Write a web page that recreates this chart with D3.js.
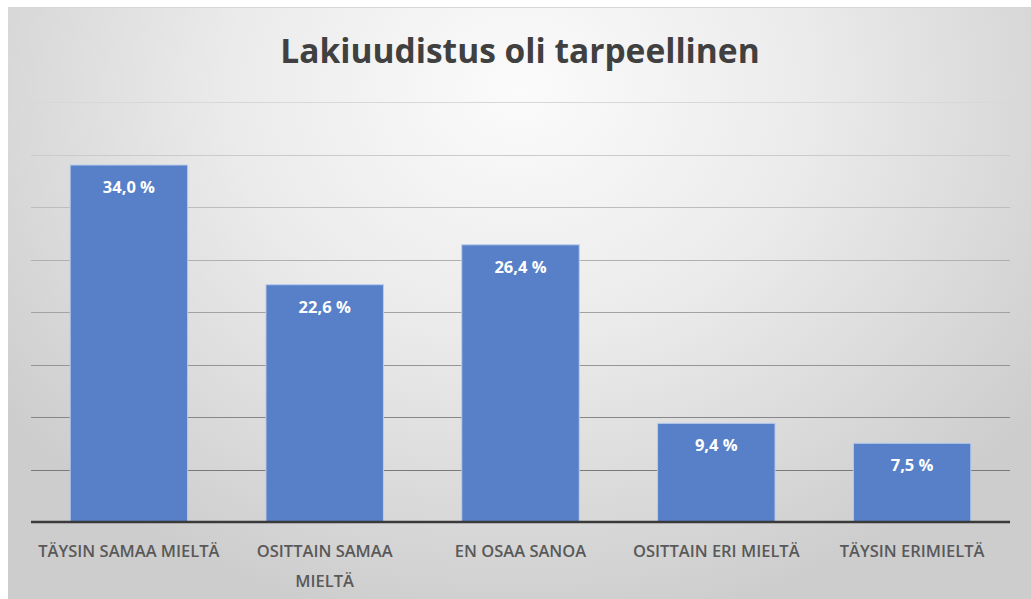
<!DOCTYPE html>
<html>
<head>
<meta charset="utf-8">
<script src="https://cdn.jsdelivr.net/npm/d3@7"></script>
<style>
  body { margin: 0; background: #fff; }
  svg { display: block; font-family: "Open Sans", "Noto Sans", sans-serif; }
</style>
</head>
<body>
<svg width="1031" height="599"></svg>
<script>
var categories = ["TÄYSIN SAMAA MIELTÄ", "OSITTAIN SAMAA MIELTÄ", "EN OSAA SANOA", "OSITTAIN ERI MIELTÄ", "TÄYSIN ERIMIELTÄ"];
var tickLines = [["TÄYSIN SAMAA MIELTÄ"], ["OSITTAIN SAMAA", "MIELTÄ"], ["EN OSAA SANOA"], ["OSITTAIN ERI MIELTÄ"], ["TÄYSIN ERIMIELTÄ"]];
var values = [34.0, 22.6, 26.4, 9.4, 7.5];
var gridTicks = [5, 10, 15, 20, 25, 30, 35, 40];
var title = "Lakiuudistus oli tarpeellinen";

var svg = d3.select("svg");
var svgDims = {width: +svg.attr("width"), height: +svg.attr("height")};
var plot = {left: 31, right: 1010, top: 102, bottom: 522};

var fi = d3.formatLocale({decimal: ",", thousands: " ", grouping: [3], currency: ["", " €"]});
var fmt = fi.format(".1f");

// background panel with soft radial shading
var defs = svg.append("defs");
var grad = defs.append("radialGradient")
  .attr("id", "bg")
  .attr("gradientUnits", "userSpaceOnUse")
  .attr("cx", 520).attr("cy", 90).attr("r", 640)
  .attr("gradientTransform", "translate(520,90) scale(1,0.85) translate(-520,-90)");
grad.append("stop").attr("offset", "0").attr("stop-color", "#fbfbfb");
grad.append("stop").attr("offset", "0.45").attr("stop-color", "#ebebeb");
grad.append("stop").attr("offset", "1").attr("stop-color", "#cdcdcd");

svg.append("rect")
  .attr("x", 8).attr("y", 8)
  .attr("width", svgDims.width - 8).attr("height", svgDims.height - 8)
  .attr("fill", "url(#bg)");
svg.append("line")
  .attr("x1", 8).attr("x2", svgDims.width)
  .attr("y1", 7.5).attr("y2", 7.5)
  .attr("stroke", "#d6d6d6");

var x = d3.scaleBand()
  .domain(categories)
  .range([plot.left, plot.right])
  .paddingInner(0.4)
  .paddingOuter(0.2);

var y = d3.scaleLinear()
  .domain([0, 40])
  .range([plot.bottom, plot.top]);

var gridColor = d3.scaleLinear()
  .domain([40, 5])
  .range(["#d8d8d8", "#7a7a7a"]);

// gridlines
svg.append("g")
  .selectAll("line")
  .data(gridTicks)
  .enter().append("line")
  .attr("x1", plot.left).attr("x2", plot.right)
  .attr("y1", function(d) { return Math.round(y(d)) + 0.5; })
  .attr("y2", function(d) { return Math.round(y(d)) + 0.5; })
  .attr("stroke", function(d) { return gridColor(d); })
  .attr("stroke-width", 1);

// bars
svg.append("g")
  .selectAll("rect")
  .data(values)
  .enter().append("rect")
  .attr("x", function(d, i) { return x(categories[i]); })
  .attr("y", function(d) { return y(d); })
  .attr("width", x.bandwidth())
  .attr("height", function(d) { return y(0) - y(d); })
  .attr("fill", "#5780c8")
  .attr("stroke", "#b9cdee")
  .attr("stroke-width", 1);

// data labels
svg.append("g")
  .selectAll("text")
  .data(values)
  .enter().append("text")
  .attr("x", function(d, i) { return x(categories[i]) + x.bandwidth() / 2; })
  .attr("y", function(d) { return y(d) + 28; })
  .attr("text-anchor", "middle")
  .attr("fill", "#ffffff")
  .style("font-size", "16.5px")
  .style("font-weight", "bold")
  .text(function(d) { return fmt(d) + " %"; });

// axis baseline
svg.append("line")
  .attr("x1", plot.left).attr("x2", plot.right)
  .attr("y1", y(0)).attr("y2", y(0))
  .attr("stroke", "#3a3a3a")
  .attr("stroke-width", 2.5);

// category labels
var lbl = svg.append("g")
  .selectAll("text")
  .data(categories)
  .enter().append("text")
  .attr("x", function(d) { return x(d) + x.bandwidth() / 2; })
  .attr("y", 557)
  .attr("text-anchor", "middle")
  .attr("fill", "#595959")
  .style("font-size", "16.5px")
  .style("font-weight", "600");
lbl.each(function(d, i) {
  var t = d3.select(this);
  tickLines[i].forEach(function(line, j) {
    t.append("tspan")
      .attr("x", x(d) + x.bandwidth() / 2)
      .attr("dy", j === 0 ? 0 : 30)
      .text(line);
  });
});

// title
svg.append("text")
  .attr("x", 520)
  .attr("y", 63)
  .attr("text-anchor", "middle")
  .attr("fill", "#404040")
  .style("font-size", "33.5px")
  .style("font-weight", "bold")
  .text(title);
</script>
</body>
</html>
